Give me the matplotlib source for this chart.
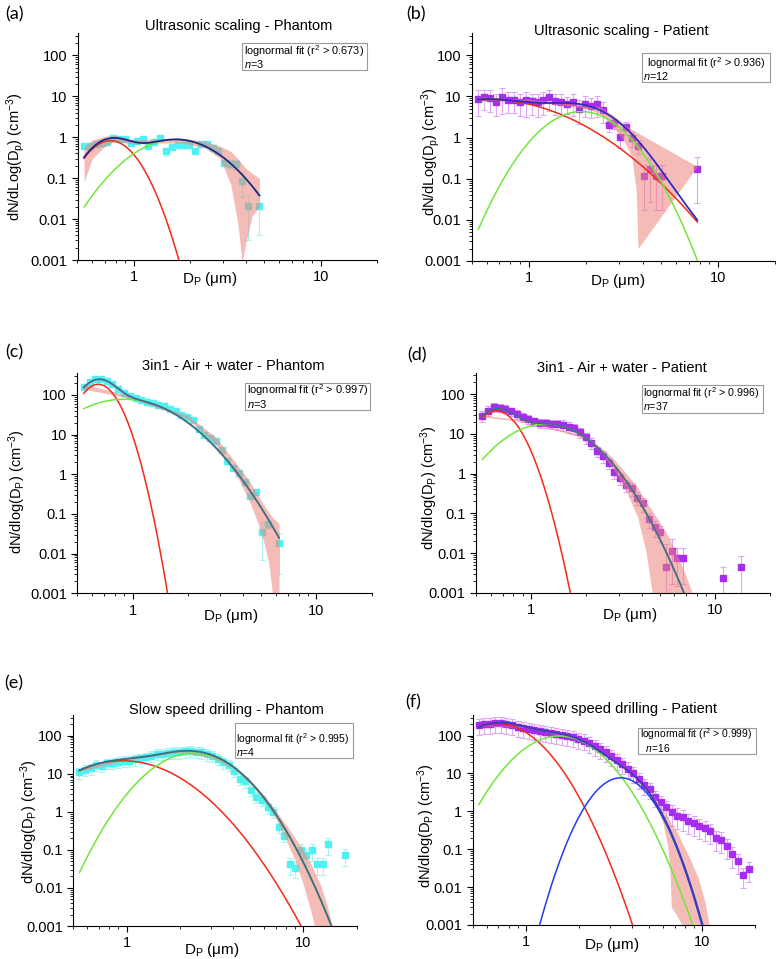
import numpy as np
import matplotlib
matplotlib.use("Agg")
import matplotlib.pyplot as plt
from matplotlib.patches import Rectangle
from matplotlib.ticker import LogLocator, NullFormatter, FuncFormatter

plt.rcParams['font.family'] = ['Liberation Sans', 'DejaVu Sans']
plt.rcParams['mathtext.fontset'] = 'custom'
plt.rcParams['mathtext.rm'] = 'Liberation Sans'
plt.rcParams['mathtext.it'] = 'Liberation Sans:italic'

W, H = 783, 959

# APS channel midpoints (um)
aps = [0.542, 0.583, 0.626, 0.673, 0.723, 0.777, 0.835, 0.898, 0.965, 1.037,
       1.114, 1.197, 1.286, 1.382, 1.486, 1.596, 1.715, 1.843, 1.981, 2.129,
       2.288, 2.458, 2.642, 2.839, 3.051, 3.278, 3.523, 3.786, 4.068, 4.371,
       4.698, 5.048, 5.425, 5.829, 6.264, 6.732, 7.234, 7.774, 8.354, 8.977,
       9.647, 10.37, 11.14, 11.97, 12.86, 13.82, 14.86, 15.96, 17.15, 18.43]

# ---------------- (a) ultrasonic scaling - phantom
a_x = aps[0:29] + [aps[30]]
a_y = [0.62, 0.6, 0.7, 0.72, 0.78, 0.95, 0.9, 0.88, 0.72, 0.8,
       0.92, 0.62, 0.75, 0.95, 0.45, 0.58, 0.66, 0.66, 0.66, 0.46,
       0.68, 0.68, 0.55, 0.45, 0.24, 0.22, 0.22, 0.085, 0.021, 0.021]
a_err = [0.05, 0.05, 0.05, 0.05, 0.06, 0.08, 0.06, 0.06, 0.06, 0.06,
         0.08, 0.06, 0.06, 0.08, 0.1, 0.08, 0.1, 0.1, 0.1, 0.06,
         0.08, 0.08, 0.08, 0.06, 0.04, 0.05, 0.05, 0.05, 0.018, 0.017]
a_modes = [(0.82, 0.75, 0.10), (0.88, 1.68, 0.178)]
a_range = (0.542, 4.698)
a_band_x = [0.542, 0.6, 0.7, 0.8, 1.0, 1.3, 1.8, 2.4, 2.9, 3.3, 3.6, 3.8, 4.0, 4.3, 4.698]
a_band_lo = [0.08, 0.3, 0.6, 0.8, 0.68, 0.72, 0.72, 0.55, 0.3, 0.07, 0.008, 0.0009, 0.003, 0.012, 0.02]
a_band_hi = [0.6, 0.85, 1.05, 1.1, 0.85, 0.9, 0.95, 0.8, 0.6, 0.45, 0.3, 0.22, 0.17, 0.13, 0.1]

# ---------------- (b) ultrasonic scaling - patient
b_x = aps[0:32] + [aps[37]]
b_y = [8.8, 9.7, 9.2, 7.45, 9.7, 8.4, 8.4, 7.45, 8.1, 7.6,
       7.2, 8.1, 9.5, 7.6, 7.3, 6.7, 7.45, 5.1, 6.6, 6.0,
       6.6, 4.8, 2.0, 2.26, 1.06, 1.77, 1.0, 0.64, 0.117, 0.177,
       0.117, 0.117, 0.175]
b_err = [5.5, 5.0, 5.0, 4.0, 6.0, 4.5, 4.5, 4.0, 5.0, 4.0,
         4.0, 4.5, 5.0, 4.0, 4.0, 3.0, 4.0, 3.0, 3.5, 3.0,
         3.5, 2.5, 0.6, 0.6, 0.5, 0.6, 0.4, 0.25, 0.1, 0.15,
         0.1, 0.1, 0.155]
b_modes = [(8.6, 0.60, 0.30), (4.3, 1.9, 0.15)]
b_range = (0.542, 7.774)
b_band_x = [0.542, 1.0, 2.0, 2.4, 2.8, 3.2, 3.5, 3.7, 3.78, 4.5, 5.5, 6.5, 7.774]
b_band_lo = [8.2, 7.6, 5.2, 3.8, 1.8, 0.8, 0.35, 0.05, 0.002, 0.0061, 0.022, 0.064, 0.2]
b_band_hi = [9.8, 8.6, 6.2, 5.5, 3.5, 2.1, 1.6, 1.35, 1.3, 0.82, 0.49, 0.315, 0.2]

# ---------------- (c) 3in1 - air + water - phantom
c_x = aps[0:33] + [aps[34]]
c_y = [162, 215, 255, 255, 230, 185, 140, 110, 95, 85,
       75, 68, 63, 57, 52, 45, 40, 32, 27, 23,
       14, 10, 8.0, 7.0, 4.0, 2.1, 1.4, 1.05, 0.62, 0.29,
       0.35, 0.035, 0.055, 0.018]
c_err = [10, 12, 12, 12, 10, 8, 7, 5, 5, 4,
         4, 3, 3, 3, 3, 2.5, 2, 2, 1.5, 1.5,
         1, 0.8, 0.6, 0.5, 0.3, 0.2, 0.15, 0.1, 0.08, 0.05,
         0.05, 0.028, 0.01, 0.015]
c_modes = [(185, 0.65, 0.0766), (78, 0.9, 0.21)]
c_range = (0.542, 6.264)
c_band_x = [0.542, 1.0, 2.0, 2.8, 3.3, 3.8, 4.3, 4.8, 5.2, 5.5, 5.8, 6.264]
c_band_lo = [140, 80, 25, 6, 2.0, 0.7, 0.22, 0.06, 0.018, 0.006, 0.0008, 0.0008]
c_band_hi = [190, 90, 30, 9, 3.5, 1.5, 0.7, 0.3, 0.16, 0.11, 0.08, 0.058]

# ---------------- (d) 3in1 - air + water - patient
d_x = aps[0:36] + [aps[42], aps[45]]
d_y = [29, 39, 47, 46, 43, 37, 32, 27, 24, 21,
       19, 19, 18, 17.5, 17, 15.3, 14, 11, 8.2, 6.0,
       3.7, 2.8, 1.9, 1.1, 0.78, 0.53, 0.43, 0.25, 0.18, 0.073,
       0.045, 0.034, 0.0045, 0.011, 0.0075, 0.0077, 0.0023, 0.0045]
d_err = [9, 11, 12, 11, 10, 9, 8, 7, 6, 5,
         5, 5, 5, 5, 5, 4.5, 4, 3.3, 2.5, 1.8,
         1.1, 0.9, 0.6, 0.35, 0.25, 0.18, 0.15, 0.09, 0.07, 0.03,
         0.02, 0.015, 0.012, 0.011, 0.006, 0.006, 0.0022, 0.004]
d_modes = [(38, 0.645, 0.0878), (18, 1.2, 0.17)]
d_range = (0.542, 7.5)
d_band_x = [0.542, 1.0, 2.0, 2.4, 2.8, 3.3, 3.8, 4.2, 4.5, 4.6, 5.5, 6.5, 7.0, 7.6]
d_band_lo = [27, 19, 7.5, 3.5, 1.3, 0.35, 0.08, 0.012, 0.0015, 0.0008, 0.0005, 0.0005, 0.0005, 0.0005]
d_band_hi = [30, 21, 8.5, 4.6, 2.4, 1.0, 0.45, 0.2, 0.13, 0.11, 0.03, 0.006, 0.0025, 0.0009]

# ---------------- (e) slow speed drilling - phantom
e_x = aps[0:46] + [aps[48]]
e_y = [11, 12.5, 14, 17, 16, 19, 19.5, 21, 22, 22,
       24, 26, 27, 30, 34, 34, 36, 37, 38, 39,
       40, 38, 37, 33, 30, 25, 20, 17, 12, 7.5,
       6.3, 3.8, 2.5, 2.0, 1.3, 1.0, 0.4, 0.23, 0.042, 0.033,
       0.1, 0.073, 0.097, 0.042, 0.042, 0.14, 0.073]
e_err = [3.5, 4, 4.5, 5.5, 5, 6, 6, 7, 7, 7,
         8, 8, 9, 10, 11, 11, 12, 12, 13, 13,
         13, 12, 12, 11, 10, 8, 6.5, 5.5, 4, 2.5,
         2, 1.2, 0.8, 0.6, 0.4, 0.3, 0.12, 0.07, 0.02, 0.015,
         0.045, 0.035, 0.045, 0.02, 0.02, 0.065, 0.035]
e_modes = [(22, 0.95, 0.2256), (35, 2.4, 0.17)]
e_range = (0.542, 15.0)
e_band_x = [0.542, 1, 2, 3, 4, 5, 6, 7, 8, 9, 10, 11, 11.6, 12.5, 13.5, 14.6]
e_band_lo = [11.5, 23, 37, 27, 14, 5.5, 2.0, 0.65, 0.18, 0.05, 0.012, 0.0025, 0.0009, 0.0005, 0.0005, 0.0005]
e_band_hi = [13, 26, 42, 31, 16.5, 6.8, 2.7, 1.05, 0.45, 0.2, 0.1, 0.045, 0.025, 0.012, 0.004, 0.0009]

# ---------------- (f) slow speed drilling - patient
f_x = aps[0:50]
f_y = [185, 200, 205, 210, 210, 200, 185, 170, 160, 150,
       140, 130, 125, 118, 112, 105, 98, 90, 82, 74,
       62, 52, 44, 36, 29, 23, 18, 13.5, 10, 7.0,
       5.0, 3.8, 2.4, 1.75, 1.3, 0.94, 0.77, 0.69, 0.56, 0.49,
       0.41, 0.37, 0.3, 0.2, 0.18, 0.12, 0.073, 0.049, 0.021, 0.03]
f_rel = [0.45] * 35 + [0.55] * 15
f_modes = [(210, 0.69, 0.155), (98, 1.55, 0.158), (7.7, 3.46, 0.1088)]
f_range = (0.542, 11.0)
f_band_x = [0.542, 1, 2, 3, 4, 5, 5.5, 6.0, 6.4, 6.6, 6.7, 7.2, 7.7, 8.5, 9.5, 10.3, 11.0]
f_band_lo = [180, 165, 78, 24, 9.3, 2.9, 1.3, 0.5, 0.12, 0.02, 0.003, 0.0018, 0.001, 0.0005, 0.0005, 0.0005, 0.0005]
f_band_hi = [190, 175, 82, 27, 10.3, 3.5, 2.0, 1.1, 0.7, 0.55, 0.45, 0.3, 0.15, 0.06, 0.018, 0.005, 0.001]
f_err = [r * v for r, v in zip(f_rel, f_y)]

titles = ["Ultrasonic scaling - Phantom", "Ultrasonic scaling - Patient",
          "3in1 - Air + water - Phantom", "3in1 - Air + water - Patient",
          "Slow speed drilling - Phantom", "Slow speed drilling - Patient"]
r2 = ["0.673", "0.936", "0.997", "0.996", "0.995", "0.999"]
n_vals = ["3", "12", "3", "37", "4", "16"]


def lognorm(x, amp, dg, w):
    return amp * np.exp(-np.log10(x / dg) ** 2 / (2 * w ** 2))


def px(x, y):
    return x / W, 1 - y / H


cyan = ("#4ef2f2", "#a9f3f3")
purple = ("#a62cf0", "#dfa6f6")

panels = [
    dict(lab="(a)", ax=(77.5, 33, 377, 260), x=a_x, y=a_y, e=a_err, m=a_modes, r=a_range,
         bx=a_band_x, bl=a_band_lo, bh=a_band_hi, col=cyan, sum="#22268c",
         ylab=r"dN/dLog(D$_\mathregular{p}$) (cm$^\mathregular{-3}$)",
         plab=(14, 14), tit=(239, 26), xl=(210, 279), yl=(16, 157),
         box=(242, 43, 367, 70), l1=(244, 51.5), l2=(244, 63.5), lead="", lfs=7.9),
    dict(lab="(b)", ax=(471.7, 33, 775, 261), x=b_x, y=b_y, e=b_err, m=b_modes, r=b_range,
         bx=b_band_x, bl=b_band_lo, bh=b_band_hi, col=purple, sum="#2a2fc0",
         ylab=r"dN/dLog(D$_\mathregular{p}$) (cm$^\mathregular{-3}$)",
         plab=(416, 14), tit=(621, 31), xl=(618, 281), yl=(431, 152),
         box=(641.7, 53, 770, 82), l1=(643.5, 63), l2=(643, 75.5), lead=" ", lfs=7.8),
    dict(lab="(c)", ax=(77.3, 373.3, 371.7, 593.3), x=c_x, y=c_y, e=c_err, m=c_modes, r=c_range,
         bx=c_band_x, bl=c_band_lo, bh=c_band_hi, col=cyan, sum="#4b6790",
         ylab=r"dN/dlog(D$_\mathregular{P}$) (cm$^\mathregular{-3}$)",
         plab=(14, 352), tit=(233, 366), xl=(231, 616), yl=(17, 492),
         box=(245, 382.7, 370, 410), l1=(247, 390.5), l2=(247, 403.5), lead="", lfs=8.0),
    dict(lab="(d)", ax=(476, 372.7, 770, 592.7), x=d_x, y=d_y, e=d_err, m=d_modes, r=d_range,
         bx=d_band_x, bl=d_band_lo, bh=d_band_hi, col=purple, sum="#4b6790",
         ylab=r"dN/dlog(D$_\mathregular{P}$) (cm$^\mathregular{-3}$)",
         plab=(417, 355), tit=(622, 368), xl=(630, 615), yl=(429, 488),
         box=(641.7, 385, 763.3, 412.7), l1=(643, 393), l2=(643, 405.5), lead="", lfs=7.7),
    dict(lab="(e)", ax=(73.3, 715, 356.7, 926), x=e_x, y=e_y, e=e_err, m=e_modes, r=e_range,
         bx=e_band_x, bl=e_band_lo, bh=e_band_hi, col=cyan, sum="#3f6a82",
         ylab=r"dN/dlog(D$_\mathregular{P}$) (cm$^\mathregular{-3}$)",
         plab=(14, 683), tit=(226, 710), xl=(212, 950), yl=(29, 822),
         box=(235, 723.3, 353.3, 757.7), l1=(236.5, 739), l2=(236.5, 751.5), lead="", lfs=7.5),
    dict(lab="(f)", ax=(472.7, 715, 755, 925), x=f_x, y=f_y, e=f_err, m=f_modes, r=f_range,
         bx=f_band_x, bl=f_band_lo, bh=f_band_hi, col=purple, sum="#3a3fb0",
         ylab=r"dN/dlog(D$_\mathregular{P}$) (cm$^\mathregular{-3}$)",
         plab=(413, 702), tit=(626, 709), xl=(612, 945), yl=(426, 826),
         box=(638.3, 727.7, 755.7, 754), l1=(640, 734.5), l2=(640, 747.5), lead="", lfs=7.4),
]

mode_cols = ["#f42a18", "#6fe83a", "#1f3df0"]

fig = plt.figure(figsize=(W / 100, H / 100), dpi=100)

for i, p in enumerate(panels):
    x0, y0, x1, y1 = p["ax"]
    ax = fig.add_axes([x0 / W, 1 - y1 / H, (x1 - x0) / W, (y1 - y0) / H])
    ax.set_xscale("log")
    ax.set_yscale("log")
    ax.set_xlim(0.5, 20)
    ax.set_ylim(0.001, 350)

    xs = np.array(p["x"])
    ys = np.array(p["y"])
    es = np.array(p["e"])
    lo = np.minimum(es, 0.85 * ys)
    mk, ec = p["col"]
    ax.errorbar(xs, ys, yerr=[lo, es], fmt="s", ms=4.2, mfc=mk, mec=mk,
                ecolor=ec, elinewidth=0.8, capsize=2, capthick=0.8, zorder=2)

    xc = np.logspace(np.log10(p["r"][0]), np.log10(p["r"][1]), 400)
    total = np.zeros_like(xc)
    for j, (amp, dg, w) in enumerate(p["m"]):
        yc = lognorm(xc, amp, dg, w)
        total += yc
        ax.plot(xc, yc, color=mode_cols[j], lw=1.1, zorder=3)
    ax.plot(xc, total, color=p["sum"], lw=1.3, zorder=4)

    ax.fill_between(p["bx"], p["bl"], p["bh"], color="#ee857c", alpha=0.55,
                    lw=0, zorder=2.5)

    for s in ("top", "right"):
        ax.spines[s].set_visible(False)
    ax.tick_params(which="both", direction="out", labelsize=10.5)
    ax.tick_params(which="major", length=4)
    ax.tick_params(which="minor", length=2)
    ax.xaxis.set_major_locator(LogLocator(base=10, numticks=10))
    ax.xaxis.set_minor_locator(LogLocator(base=10, subs=np.arange(2, 10), numticks=10))
    ax.yaxis.set_major_locator(LogLocator(base=10, numticks=10))
    ax.yaxis.set_minor_locator(LogLocator(base=10, subs=np.arange(2, 10), numticks=10))
    fmt = FuncFormatter(lambda v, pos: "%g" % v)
    ax.xaxis.set_major_formatter(fmt)
    ax.yaxis.set_major_formatter(fmt)
    ax.xaxis.set_minor_formatter(NullFormatter())
    ax.yaxis.set_minor_formatter(NullFormatter())

    fig.text(*px(*p["plab"]), p["lab"], fontsize=13, family=["Lato", "DejaVu Sans"],
             ha="center", va="center")
    fig.text(*px(*p["tit"]), titles[i], fontsize=10.5, ha="center", va="center")
    fig.text(*px(*p["xl"]), r"D$_\mathregular{P}$ ($\mathregular{\mu}$m)", fontsize=11,
             ha="center", va="center")
    fig.text(*px(*p["yl"]), p["ylab"], fontsize=10.5, rotation=90, ha="center", va="center")

    bx0, by0, bx1, by1 = p["box"]
    fig.patches.append(Rectangle(px(bx0, by1), (bx1 - bx0) / W, (by1 - by0) / H,
                                 transform=fig.transFigure, fc="white", ec="#9a9a9a",
                                 lw=0.8, zorder=5))
    fig.text(*px(*p["l1"]), p["lead"] + "lognormal fit (r$^\\mathregular{2}$ > " + r2[i] + ")",
             fontsize=p["lfs"], ha="left", va="center", zorder=6)
    fig.text(*px(*p["l2"]), ("  " if i == 5 else "") + "$n$=" + n_vals[i],
             fontsize=p["lfs"], ha="left", va="center", zorder=6)

fig.savefig("out.png", dpi=100)
